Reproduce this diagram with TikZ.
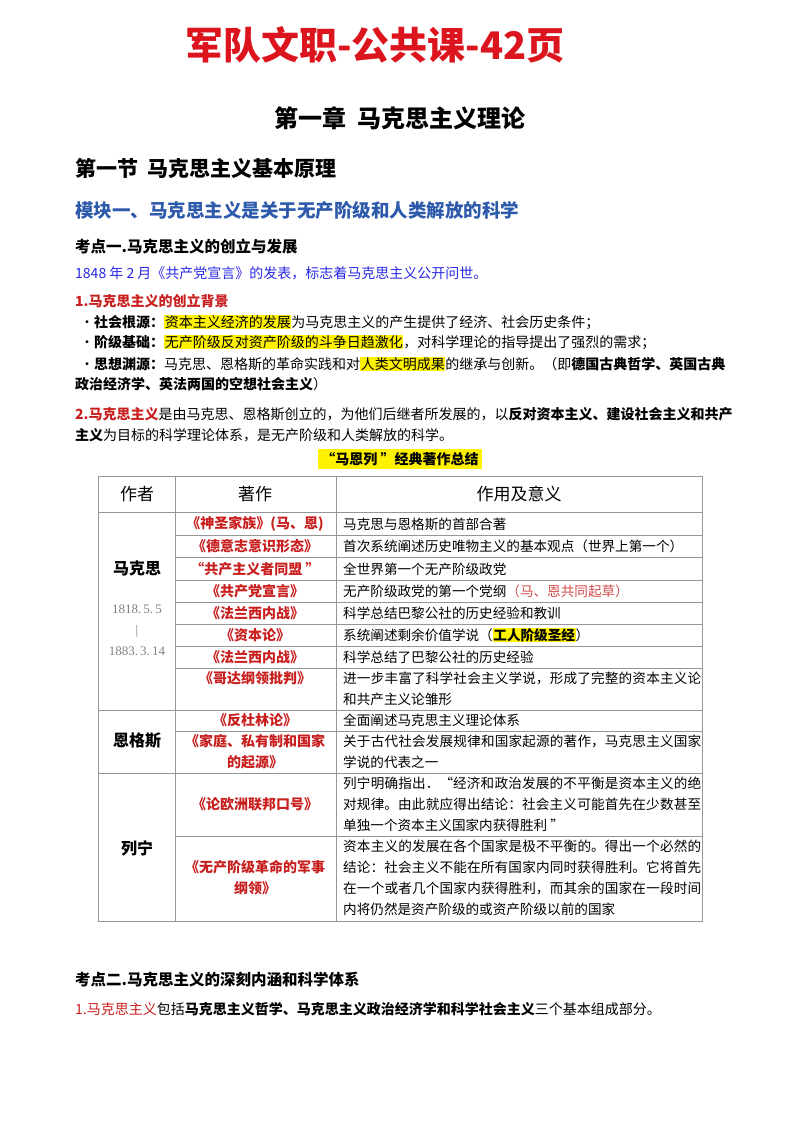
\documentclass[tikz,border=0pt]{standalone}
\usepackage{fontspec}
\setmainfont{Noto Sans CJK SC}
\newfontfamily\datefont{Liberation Serif}
\usepackage{xcolor}
\XeTeXlinebreaklocale "zh"
\XeTeXlinebreakskip=0pt plus 1pt
\definecolor{titlered}{RGB}{220,20,30}
\definecolor{darkred}{RGB}{200,30,30}
\definecolor{modblue}{RGB}{45,90,170}
\definecolor{textblue}{RGB}{40,40,230}
\definecolor{gridgray}{RGB}{150,150,150}
\newcommand{\hl}[1]{{\setlength\fboxsep{0.6pt}\colorbox{yellow}{#1}}}
\tikzset{
  txt/.style={anchor=west, inner sep=0pt, font=\fontsize{14}{16}\selectfont},
  work/.style={inner sep=0pt, align=center, text=darkred, font=\fontsize{14}{21}\selectfont\bfseries},
  mean/.style={anchor=west, inner sep=0pt, align=justify, text width=358pt, font=\fontsize{13.6}{21}\selectfont},
  who/.style={inner sep=0pt, font=\fontsize{16}{18}\selectfont\bfseries}
}

\begin{document}
\begin{tikzpicture}[x=1pt, y=-1pt]
\useasboundingbox (0,0) rectangle (800,1132);
% Headings
    \node[inner sep=0pt, text=titlered, font=\fontsize{38}{42}\selectfont\bfseries] (title) at (375,45) {军队文职-公共课-42页};
    \node[inner sep=0pt, font=\fontsize{24}{28}\selectfont\bfseries] (chap) at (400,118) {第一章\ \ 马克思主义理论};
    \node[txt, font=\fontsize{21}{24}\selectfont\bfseries] (sec) at (75,168) {第一节\ \ 马克思主义基本原理};
    \node[txt, text=modblue, font=\fontsize{18.5}{22}\selectfont\bfseries] (mod) at (75,210) {模块一、马克思主义是关于无产阶级和人类解放的科学};
    \node[txt, font=\fontsize{15.5}{18}\selectfont\bfseries] (kd1) at (75,247) {考点一.马克思主义的创立与发展};
% Body text
    \node[txt, text=textblue] (l1) at (75,273) {1848 年 2 月《共产党宣言》的发表，标志着马克思主义公开问世。};
    \node[txt, text=darkred, font=\fontsize{14}{16}\selectfont\bfseries] (l2) at (75,301) {1.马克思主义的创立背景};
    \node[txt] (l3) at (80,322) {・\textbf{社会根源：}\hl{资本主义经济的发展}为马克思主义的产生提供了经济、社会历史条件；};
    \node[txt] (l4) at (80,342) {・\textbf{阶级基础：}\hl{无产阶级反对资产阶级的斗争日趋激化}，对科学理论的指导提出了强烈的需求；};
    \node[txt] (l5) at (80,364) {・\textbf{思想渊源：}马克思、恩格斯的革命实践和对\hl{人类文明成果}的继承与创新。（即\textbf{德国古典哲学、英国古典}};
    \node[txt] (l6) at (75,384) {\textbf{政治经济学、英法两国的空想社会主义}）};
    \node[txt] (l7) at (75,414) {\textcolor{darkred}{\textbf{2.马克思主义}}是由马克思、恩格斯创立的，为他们后继者所发展的，以\textbf{反对资本主义、建设社会主义和共产}};
    \node[txt] (l8) at (75,435) {\textbf{主义}为目标的科学理论体系，是无产阶级和人类解放的科学。};
    \node[inner sep=3pt, fill=yellow, font=\fontsize{14}{16}\selectfont\bfseries] (cap) at (400,459) {“马恩列 ”经典著作总结};
% Table grid
    \draw[gridgray, line width=0.8pt] (98,476) rectangle (702,921);
    \foreach \y in {512,710,773} \draw[gridgray, line width=0.8pt] (98,\y) -- (702,\y);
    \foreach \y in {535,557,580,602,624,646,668,731,836} \draw[gridgray, line width=0.8pt] (175,\y) -- (702,\y);
    \draw[gridgray, line width=0.8pt] (175,476) -- (175,921);
    \draw[gridgray, line width=0.8pt] (336,476) -- (336,921);
% Table header
    \node[who, font=\fontsize{17}{20}\selectfont] (hauthor) at (137,494) {作者};
    \node[who, font=\fontsize{17}{20}\selectfont] (hwork) at (255,494) {著作};
    \node[who, font=\fontsize{17}{20}\selectfont] (hmean) at (519,494) {作用及意义};
% Authors
    \node[who] (marx) at (137,568) {马克思};
    \node[inner sep=0pt, text=gray, align=center, font=\datefont\fontsize{13}{21}\selectfont] (marxdate) at (137,630) {1818.\,5.\,5\\|\\1883.\,3.\,14};
    \node[who] (engels) at (137,741) {恩格斯};
    \node[who] (lenin) at (137,848) {列宁};
% Works
    \node[work] (w1) at (255,524) {《神圣家族》(马、恩)};
    \node[work] (w2) at (255,546) {《德意志意识形态》};
    \node[work] (w3) at (255,569) {“共产主义者同盟 ”};
    \node[work] (w4) at (255,591) {《共产党宣言》};
    \node[work] (w5) at (255,613) {《法兰西内战》};
    \node[work] (w6) at (255,635) {《资本论》};
    \node[work] (w7) at (255,657) {《法兰西内战》};
    \node[work] (w8) at (255,678) {《哥达纲领批判》};
    \node[work] (w9) at (255,720) {《反杜林论》};
    \node[work] (w10) at (255,752) {《家庭、私有制和国家\\的起源》};
    \node[work] (w11) at (255,804) {《论欧洲联邦口号》};
    \node[work] (w12) at (255,878) {《无产阶级革命的军事\\纲领》};
% Meanings
    \node[mean] (m1) at (343,524) {马克思与恩格斯的首部合著};
    \node[mean] (m2) at (343,546) {首次系统阐述历史唯物主义的基本观点（世界上第一个）};
    \node[mean] (m3) at (343,569) {全世界第一个无产阶级政党};
    \node[mean] (m4) at (343,591) {无产阶级政党的第一个党纲\textcolor{darkred!80}{（马、恩共同起草）}};
    \node[mean] (m5) at (343,613) {科学总结巴黎公社的历史经验和教训};
    \node[mean] (m6) at (343,635) {系统阐述剩余价值学说（\hl{\textbf{工人阶级圣经}}）};
    \node[mean] (m7) at (343,657) {科学总结了巴黎公社的历史经验};
    \node[mean] (m8) at (343,689) {进一步丰富了科学社会主义学说，形成了完整的资本主义论和共产主义论雏形};
    \node[mean] (m9) at (343,720) {全面阐述马克思主义理论体系};
    \node[mean] (m10) at (343,752) {关于古代社会发展规律和国家起源的著作，马克思主义国家学说的代表之一};
    \node[mean] (m11) at (343,804) {列宁明确指出．“经济和政治发展的不平衡是资本主义的绝对规律。由此就应得出结论：社会主义可能首先在少数甚至单独一个资本主义国家内获得胜利 ”};
    \node[mean] (m12) at (343,878) {资本主义的发展在各个国家是极不平衡的。得出一个必然的结论：社会主义不能在所有国家内同时获得胜利。它将首先在一个或者几个国家内获得胜利，而其余的国家在一段时间内将仍然是资产阶级的或资产阶级以前的国家};
% Closing part
    \node[txt, font=\fontsize{15.5}{18}\selectfont\bfseries] (kd2) at (75,980) {考点二.马克思主义的深刻内涵和科学体系};
    \node[txt] (l9) at (75,1009) {\textcolor{darkred}{1.马克思主义}包括\textbf{马克思主义哲学、马克思主义政治经济学和科学社会主义}三个基本组成部分。};
\end{tikzpicture}
\end{document}
